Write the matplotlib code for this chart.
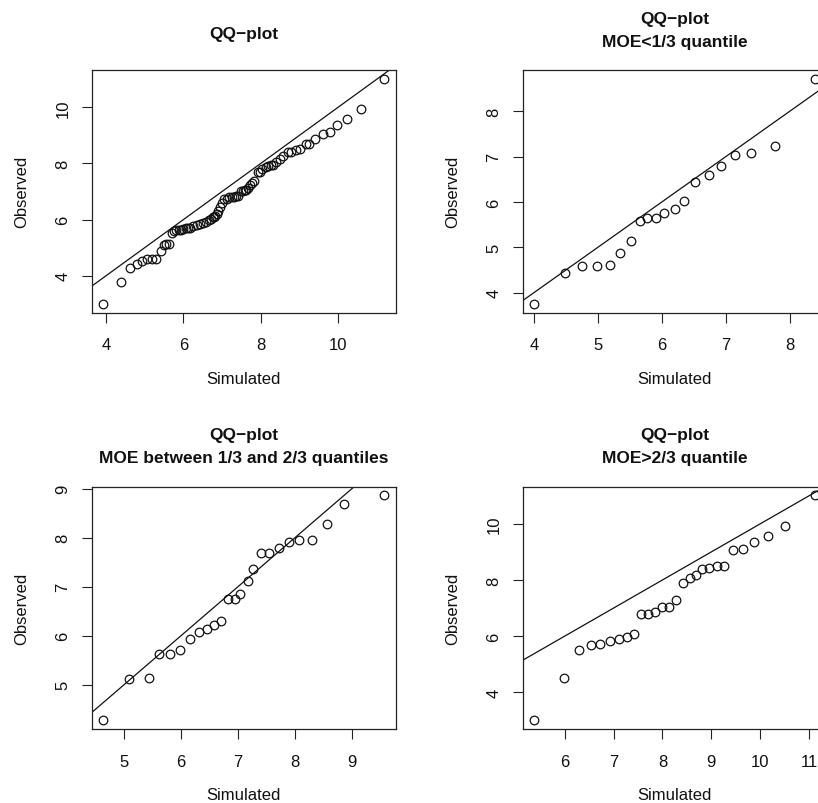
import matplotlib
matplotlib.use("Agg")
import matplotlib.pyplot as plt

W, H, DPI = 818, 804, 100

# Pooled sample: simulated quantiles vs observed values
sim_all = [3.92, 4.39, 4.61, 4.79, 4.94, 5.07, 5.18, 5.29, 5.41, 5.50, 5.56, 5.63, 5.71,
           5.75, 5.82, 5.88, 5.94, 6.00, 6.06, 6.12, 6.18, 6.26, 6.34, 6.43, 6.51, 6.59,
           6.65, 6.71, 6.76, 6.79, 6.82, 6.86, 6.90, 6.95, 7.00, 7.06, 7.12, 7.19, 7.25,
           7.30, 7.36, 7.41, 7.48, 7.54, 7.59, 7.63, 7.67, 7.73, 7.77, 7.83, 7.92, 7.97,
           8.03, 8.13, 8.20, 8.26, 8.32, 8.40, 8.50, 8.58, 8.70, 8.79, 8.90, 9.02, 9.16,
           9.25, 9.41, 9.60, 9.78, 9.98, 10.23, 10.59, 11.20]
obs_all = [3.01, 3.76, 4.28, 4.43, 4.52, 4.58, 4.58, 4.60, 4.87, 5.11, 5.13, 5.14, 5.51,
           5.58, 5.63, 5.63, 5.64, 5.65, 5.70, 5.70, 5.71, 5.76, 5.81, 5.85, 5.88, 5.93,
           5.97, 6.03, 6.08, 6.08, 6.14, 6.21, 6.30, 6.44, 6.60, 6.74, 6.75, 6.79, 6.79,
           6.80, 6.85, 6.85, 7.02, 7.03, 7.04, 7.07, 7.11, 7.23, 7.30, 7.37, 7.69, 7.69,
           7.79, 7.89, 7.91, 7.96, 7.96, 8.06, 8.17, 8.28, 8.40, 8.42, 8.48, 8.51, 8.69,
           8.71, 8.86, 9.06, 9.12, 9.37, 9.58, 9.93, 11.01]

# MOE < 1/3 quantile
sim_low = [4.00, 4.48, 4.75, 4.99, 5.19, 5.35, 5.51, 5.65, 5.77, 5.91, 6.04, 6.21,
           6.35, 6.52, 6.73, 6.93, 7.15, 7.40, 7.77, 8.40]
obs_low = [3.76, 4.43, 4.58, 4.58, 4.60, 4.87, 5.13, 5.58, 5.64, 5.65, 5.76, 5.85,
           6.03, 6.44, 6.60, 6.80, 7.04, 7.07, 7.23, 8.71]

# MOE between 1/3 and 2/3 quantiles
sim_mid = [4.63, 5.09, 5.43, 5.62, 5.80, 5.98, 6.16, 6.32, 6.45, 6.57, 6.71, 6.83,
           6.94, 7.04, 7.17, 7.27, 7.40, 7.55, 7.72, 7.89, 8.07, 8.30, 8.56, 8.86, 9.57]
obs_mid = [4.28, 5.11, 5.14, 5.63, 5.63, 5.70, 5.93, 6.08, 6.14, 6.21, 6.30, 6.74,
           6.75, 6.85, 7.11, 7.37, 7.69, 7.69, 7.79, 7.91, 7.96, 7.96, 8.28, 8.69, 8.86]

# MOE > 2/3 quantile
sim_high = [5.37, 5.98, 6.29, 6.53, 6.73, 6.93, 7.11, 7.28, 7.42, 7.57, 7.71, 7.84,
            7.99, 8.14, 8.27, 8.41, 8.57, 8.69, 8.80, 8.96, 9.11, 9.26, 9.44, 9.64,
            9.87, 10.16, 10.51, 11.13]
obs_high = [3.01, 4.52, 5.51, 5.70, 5.71, 5.81, 5.88, 5.97, 6.08, 6.79, 6.79, 6.85,
            7.02, 7.03, 7.30, 7.89, 8.06, 8.17, 8.40, 8.42, 8.48, 8.51, 9.06, 9.12,
            9.37, 9.58, 9.93, 11.01]

titles = [["QQ\u2212plot"],
          ["QQ\u2212plot", "MOE<1/3 quantile"],
          ["QQ\u2212plot", "MOE between 1/3 and 2/3 quantiles"],
          ["QQ\u2212plot", "MOE>2/3 quantile"]]
xticks = [[4, 6, 8, 10], [4, 5, 6, 7, 8], [5, 6, 7, 8, 9], [6, 7, 8, 9, 10, 11]]
yticks = [[4, 6, 8, 10], [4, 5, 6, 7, 8], [5, 6, 7, 8, 9], [4, 6, 8, 10]]
x_label, y_label = "Simulated", "Observed"

plt.rcParams["font.family"] = ["Liberation Sans", "DejaVu Sans"]

fig = plt.figure(figsize=(W / DPI, H / DPI), dpi=DPI)
fig.patch.set_facecolor("white")

PW, PH = 304.0, 242.5
lefts = [91.7, 522.7, 91.7, 522.7]
tops = [71.0, 71.0, 487.5, 487.5]


def fx(x):
    return x / W


def fy(y):
    return 1 - y / H


def r_range(v):
    lo, hi = min(v), max(v)
    pad = 0.04 * (hi - lo)
    return lo - pad, hi + pad


panels = [(sim_all, obs_all), (sim_low, obs_low), (sim_mid, obs_mid), (sim_high, obs_high)]

for i, (sx, oy) in enumerate(panels):
    L, T = lefts[i], tops[i]
    ax = fig.add_axes([fx(L), fy(T + PH), PW / W, PH / H])
    ax.plot(sx, oy, linestyle="none", marker="o", mfc="none", mec="#111111",
            ms=6.2, mew=0.9, clip_on=False)
    ax.set_xlim(*r_range(sx))
    ax.set_ylim(*r_range(oy))
    ax.axline((0, 0), slope=1, color="#111111", lw=0.9)

    ax.set_xticks(xticks[i])
    ax.set_xticklabels([str(t) for t in xticks[i]])
    ax.set_yticks(yticks[i])
    ax.set_yticklabels([str(t) for t in yticks[i]], rotation=90, va="center")
    ax.tick_params(axis="both", direction="out", length=7.2, width=0.8,
                   color="#222222", labelsize=12, labelcolor="#111111")
    ax.tick_params(axis="x", pad=10.5)
    ax.tick_params(axis="y", pad=8.0)
    for sp in ax.spines.values():
        sp.set_linewidth(0.9)
        sp.set_color("#222222")

    cx = L + PW / 2
    # axis labels
    fig.text(fx(cx), fy(T + PH + 66), x_label, ha="center", va="center",
             fontsize=12, color="#111111")
    fig.text(fx(L - 70), fy(T + PH / 2), y_label, ha="center", va="center",
             rotation=90, fontsize=12, color="#111111")

    # title lines
    lines = titles[i]
    if len(lines) == 1:
        baselines = [T - 32]
    else:
        baselines = [T - 47, T - 24]
    for txt, b in zip(lines, baselines):
        fig.text(fx(cx), fy(b), txt, ha="center", va="baseline", fontsize=12.5,
                 fontweight="bold", color="#111111")

fig.savefig("out.png", dpi=DPI, facecolor="white")
